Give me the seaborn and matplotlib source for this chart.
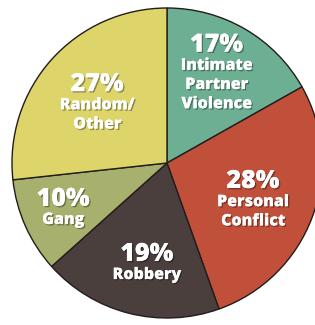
import matplotlib
matplotlib.use("Agg")
import matplotlib.pyplot as plt
import matplotlib.patheffects as pe
import seaborn as sns

# --- Data ---
categories = ["Intimate\nPartner\nViolence", "Personal\nConflict", "Robbery", "Gang", "Random/\nOther"]
shares = [17, 28, 19, 10, 27]
colors = ["#6DAF93", "#C1503A", "#4B3F3E", "#A7B06C", "#DDD46A"]

# where each percentage sits (pie data units, radius = 1)
pct_pos = [(0.32, 0.78), (0.555, -0.10), (-0.13, -0.57), (-0.67, -0.215), (-0.45, 0.525)]
FIRST_GAP = 0.14
LINE_STEP = 0.124

sns.set_theme(style="white")
plt.rcParams["font.family"] = ["Open Sans", "DejaVu Sans"]

fig = plt.figure(figsize=(3.15, 3.25), dpi=100)
ax = fig.add_axes([12 / 315, 7 / 325, 310 / 315, 310 / 325])

ax.pie(
    shares,
    colors=colors,
    startangle=90,
    counterclock=False,
    radius=1,
    wedgeprops=dict(edgecolor="#231c1c", linewidth=1.0),
)
ax.set_xlim(-1, 1)
ax.set_ylim(-1, 1)
ax.set_aspect("equal")
ax.axis("off")

shadow = [pe.withSimplePatchShadow(offset=(1, -1), shadow_rgbFace="black", alpha=0.35), pe.Normal()]

for (x, y), pct, name in zip(pct_pos, shares, categories):
    ax.text(x, y, f"{pct}%", ha="center", va="center_baseline", color="white",
            fontsize=18, fontweight="heavy", path_effects=shadow)
    for i, line in enumerate(name.split("\n")):
        ax.text(x, y - FIRST_GAP - LINE_STEP * i, line, ha="center", va="center_baseline",
                color="white", fontsize=11.5, fontweight="heavy", path_effects=shadow)

fig.savefig("out.png", dpi=100, facecolor="white")
